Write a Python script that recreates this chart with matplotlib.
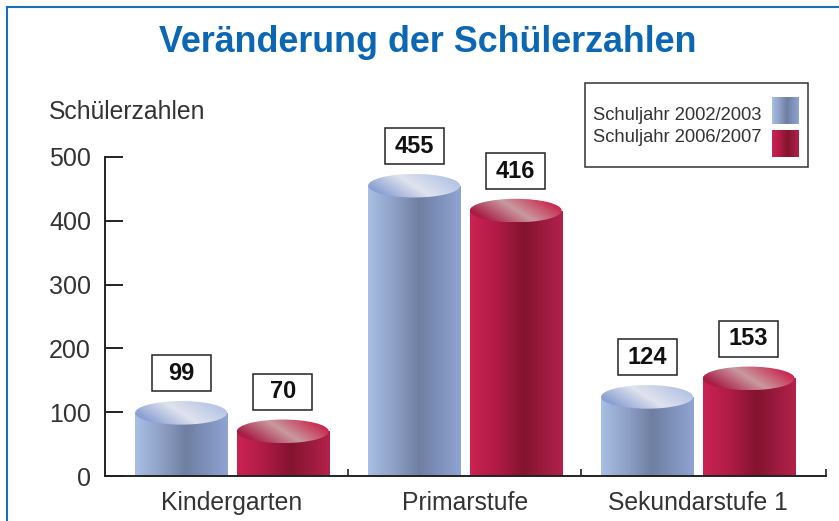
import numpy as np
import matplotlib
matplotlib.use('Agg')
import matplotlib.pyplot as plt
from matplotlib.colors import LinearSegmentedColormap
from matplotlib.patches import Ellipse, Rectangle
from matplotlib.lines import Line2D

plt.rcParams['font.family'] = ['Liberation Sans', 'DejaVu Sans']

categories = ['Kindergarten', 'Primarstufe', 'Sekundarstufe 1']
series_names = ['Schuljahr 2002/2003', 'Schuljahr 2006/2007']
values_2002 = [99, 455, 124]
values_2006 = [70, 416, 153]
y_ticks = [0, 100, 200, 300, 400, 500]

title_color = '#0b66b3'
text_color = '#333333'

body_cmaps = [
    LinearSegmentedColormap.from_list('b', [(0, '#a9bfe4'), (0.3, '#8c9ec3'), (0.55, '#6f7fa2'), (1, '#8ea4d2')]),
    LinearSegmentedColormap.from_list('r', [(0, '#cc2352'), (0.3, '#ae1b45'), (0.58, '#84132e'), (1, '#b2224c')]),
]
top_cmaps = [
    LinearSegmentedColormap.from_list('bt', [(0, '#8a9fd2'), (0.5, '#dfe3ee'), (1, '#b7c6e6')]),
    LinearSegmentedColormap.from_list('rt', [(0, '#a81d45'), (0.5, '#c99a9f'), (1, '#c8294f')]),
]

fig = plt.figure(figsize=(8.39, 5.21), dpi=100)
ax = fig.add_axes([105 / 839, 45 / 521, 721 / 839, 319 / 521])

bar_w = 0.395
offsets = [-0.218, 0.218]
cap_h = 37
box_w, box_h = 0.254, 56
gx = np.linspace(0, 1, 256)
body_grad = np.tile(gx, (2, 1))
yy, xx = np.mgrid[0:1:64j, 0:1:256j]
top_grad = np.clip(xx + 0.4 * (yy - 0.5), 0, 1)

for s, vals in enumerate([values_2002, values_2006]):
    for i, v in enumerate(vals):
        cx = i + offsets[s]
        x0, x1 = cx - bar_w / 2, cx + bar_w / 2
        body = Rectangle((x0, 0), bar_w, v, facecolor='none', edgecolor='none')
        ax.add_patch(body)
        im = ax.imshow(body_grad, extent=[x0, x1, 0, v], cmap=body_cmaps[s],
                       aspect='auto', origin='lower', zorder=2)
        im.set_clip_path(body)
        cap = Ellipse((cx, v), bar_w, cap_h, facecolor='none', edgecolor='none')
        ax.add_patch(cap)
        im2 = ax.imshow(top_grad, extent=[x0, x1, v - cap_h / 2, v + cap_h / 2],
                        cmap=top_cmaps[s], aspect='auto', origin='lower', zorder=3)
        im2.set_clip_path(cap)
        ax.add_patch(Rectangle((cx - box_w / 2, v + 62 - box_h / 2), box_w, box_h,
                               fc='white', ec='#222222', lw=1.1, zorder=4, clip_on=False))
        ax.text(cx, v + 62, str(v), ha='center', va='center', fontsize=17,
                fontweight='bold', color='#111111', zorder=5)

ax.set_xlim(-0.545, 2.55)
ax.set_ylim(0, 500)
for sp in ['top', 'right']:
    ax.spines[sp].set_visible(False)
for sp in ['left', 'bottom']:
    ax.spines[sp].set_color('#222222')
    ax.spines[sp].set_linewidth(1.4)
    ax.spines[sp].set_zorder(6)

ax.set_yticks(y_ticks)
ax.set_yticklabels([str(t) for t in y_ticks], fontsize=18, color=text_color)
ax.tick_params(axis='y', direction='in', length=13, width=1.4, pad=10, color='#222222')
ax.set_xticks(range(len(categories)))
ax.set_xticklabels(categories, fontsize=17.8, color=text_color)
ax.tick_params(axis='x', length=0, pad=11)
ax.set_xticks([0.5, 1.5, 2.55], minor=True)
ax.tick_params(axis='x', which='minor', direction='in', length=5, width=1.2, color='#222222')

fig.text(0.5095, 1 - 42 / 521, 'Veränderung der Schülerzahlen', ha='center', va='center',
         fontsize=25.8, fontweight='bold', color=title_color)
fig.text(49 / 839, 1 - 112 / 521, 'Schülerzahlen', ha='left', va='center',
         fontsize=17.8, color=text_color)

# legend box
fig.add_artist(Rectangle((585 / 839, 1 - 167 / 521), 223 / 839, 84 / 521,
                         transform=fig.transFigure, fill=False, ec='#333333', lw=1.1))
for s, name in enumerate(series_names):
    fig.text(593 / 839, 1 - (115 + 22 * s) / 521, name, ha='left', va='center',
             fontsize=13.2, color=text_color)
    top_px = 97 + 33 * s
    sw = fig.add_axes([772 / 839, 1 - (top_px + 27) / 521, 27 / 839, 27 / 521])
    sw.imshow(body_grad, cmap=body_cmaps[s], aspect='auto')
    sw.axis('off')

# blue frame (left and top edges)
fig.add_artist(Line2D([7 / 839, 7 / 839], [0, 1 - 7 / 521], transform=fig.transFigure,
                      color='#1a6fb8', lw=1.5))
fig.add_artist(Line2D([7 / 839, 1], [1 - 7 / 521, 1 - 7 / 521], transform=fig.transFigure,
                      color='#1a6fb8', lw=1.5))

fig.savefig('out.png', dpi=100)
